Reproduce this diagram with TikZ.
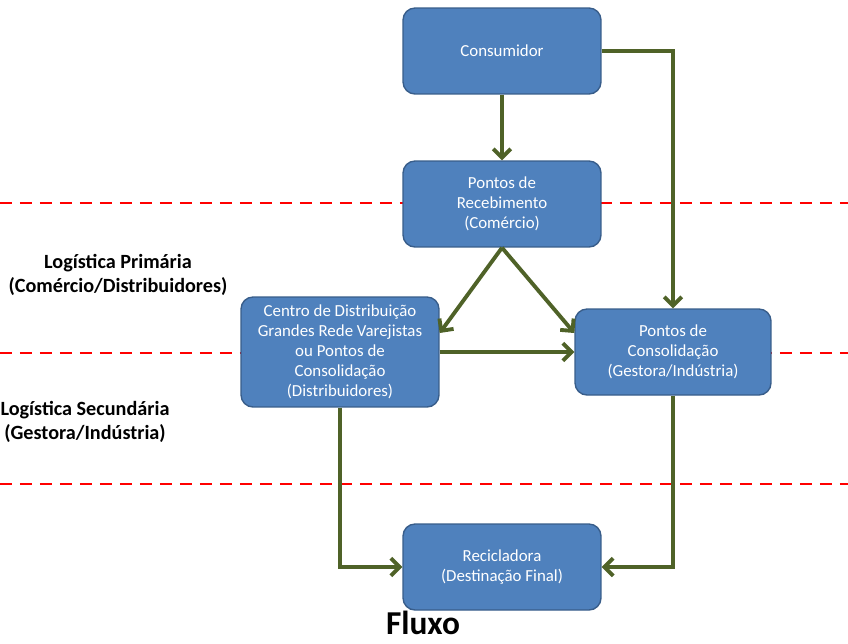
\documentclass[tikz,border=0pt]{standalone}
\usepackage{fontspec}
\setmainfont{Carlito}
\usetikzlibrary{arrows.meta}

\definecolor{boxblue}{HTML}{4F81BD}
\definecolor{boxedge}{HTML}{385D8A}
\definecolor{flowgreen}{HTML}{4F6228}

\tikzset{
    etapa/.style={draw=boxedge, line width=0.8pt, fill=boxblue, rounded corners=0.24cm,
        text=white, align=center, minimum width=3.96cm, minimum height=1.72cm,
        font=\fontsize{9.6}{11.3}\selectfont},
    fluxo/.style={draw=flowgreen, line width=2.2pt, -{Straight Barb[length=5pt, width=10pt]}},
    divisa/.style={draw=red, line width=1.2pt, dash pattern=on 0.24cm off 0.16cm},
    rotulo/.style={align=center, font=\fontsize{11.5}{13.8}\selectfont\bfseries}
}

\begin{document}
\begin{tikzpicture}[x=0.02cm, y=-0.02cm]
        \useasboundingbox (0,0) rectangle (848,643);

        % Divisoes entre os niveis
        \draw[divisa] (0,203) -- (848,203);
        \draw[divisa] (0,353) -- (848,353);
        \draw[divisa] (0,484) -- (848,484);

        % Rotulos laterais
        \node[rotulo] (prim) at (118,275) {Log\'istica Prim\'aria\\(Com\'ercio/Distribuidores)};
        \node[rotulo] (sec) at (85,422) {Log\'istica Secund\'aria\\(Gestora/Ind\'ustria)};

        % Etapas
        \node[etapa] (cons) at (502,51) {Consumidor};
        \node[etapa] (rec) at (502,204) {Pontos de\\Recebimento\\(Com\'ercio)};
        \node[etapa, minimum height=2.2cm] (cd) at (340,352) {Centro de Distribui\c{c}\~ao\\Grandes Rede Varejistas\\ou Pontos de\\Consolida\c{c}\~ao\\(Distribuidores)};
        \node[etapa, minimum width=3.92cm] (pc) at (673,352) {Pontos de\\Consolida\c{c}\~ao\\(Gestora/Ind\'ustria)};
        \node[etapa] (recic) at (502,567) {Recicladora\\(Destina\c{c}\~ao Final)};

        % Fluxos
        \draw[fluxo] (cons.south) -- (rec.north);
        \draw[fluxo] (cons.east) -| (pc.north);
        \draw[fluxo] (rec.south) -- ([yshift=0.38cm]cd.east);
        \draw[fluxo] (rec.south) -- ([yshift=0.38cm]pc.west);
        \draw[fluxo] (cd.east) -- (pc.west);
        \draw[fluxo] (cd.south) |- (recic.west);
        \draw[fluxo] (pc.south) |- (recic.east);

        \node[font=\fontsize{19}{23}\selectfont\bfseries, anchor=base, inner sep=0pt] (titulo) at (423,634) {Fluxo};
    \end{tikzpicture}
\end{document}
